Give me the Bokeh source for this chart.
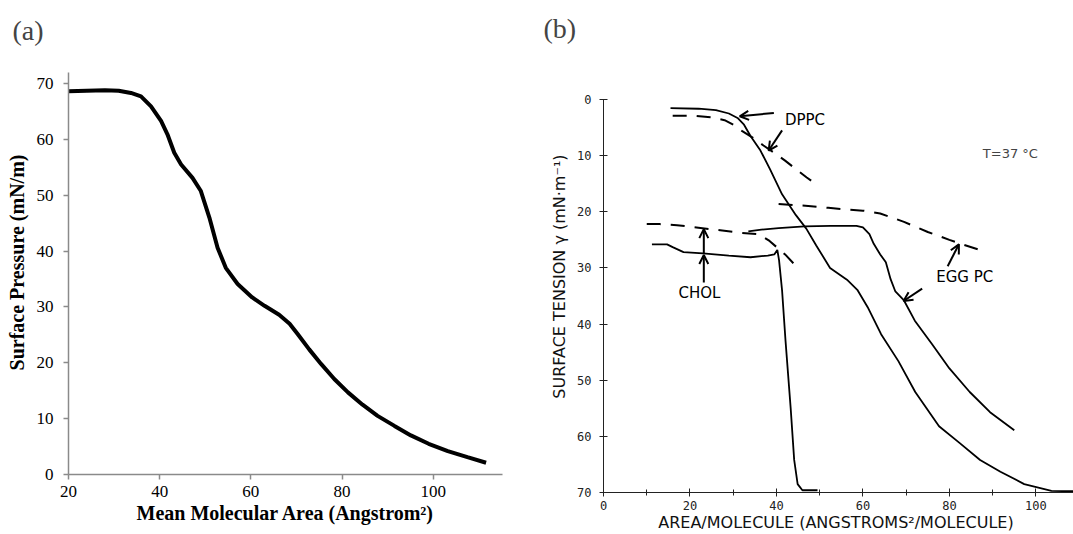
from bokeh.plotting import figure
from bokeh.layouts import row, column
from bokeh.models import Range1d, FixedTicker, Label, Arrow, OpenHead
from bokeh.embed import file_html
from bokeh.resources import INLINE

# ---------------- Panel (a) data ----------------
a_area = [20, 24, 28, 31, 33.7, 35.9, 38.1, 40.3, 41.7, 43.2, 44.7, 47.2, 49.0, 50.9, 52.7, 54.5, 57.1,
          60.3, 63, 66.2, 68.5, 70.3, 72.8, 75.4, 78.3, 81.3, 84.5, 87.8, 91.5, 95.1, 99, 103.2, 107.5, 111.6]
a_pressure = [68.6, 68.7, 68.8, 68.7, 68.3, 67.7, 65.9, 63.3, 60.9, 57.6, 55.5, 53.1, 50.8, 46.0, 40.6,
              37.0, 34.1, 31.7, 30.2, 28.6, 27.0, 25.1, 22.4, 19.8, 17.1, 14.7, 12.5, 10.5, 8.7, 7.0,
              5.5, 4.2, 3.1, 2.1]
a_xticks = [20, 40, 60, 80, 100]
a_yticks = [0, 10, 20, 30, 40, 50, 60, 70]

# ---------------- Panel (b) data ----------------
dppc_solid_x = [15.5, 22, 26, 29, 31, 32.5, 34, 36.3, 38.5, 41.3, 44.5, 46.9, 49.2, 52.4, 56.3, 58.7,
                61.1, 64.2, 68.2, 72.1, 77.6, 82.4, 87.1, 91.8, 97.3, 103.6, 110]
dppc_solid_y = [1.55, 1.65, 1.9, 2.5, 3.3, 4.5, 6.5, 9.1, 12.4, 16.9, 20.6, 23.0, 26.0, 30.0, 32.1, 33.9,
                37.0, 41.8, 46.6, 52.1, 58.2, 61.2, 64.2, 66.3, 68.5, 69.7, 69.8]
dppc_dash_x = [16, 21, 25, 28, 30, 32, 34.5, 37, 39.5, 42, 44.5, 47, 49.2]
dppc_dash_y = [2.9, 2.9, 3.2, 3.7, 4.5, 5.6, 6.8, 8.2, 9.5, 10.9, 12.4, 13.9, 15.1]

egg_solid_x = [33.5, 36.5, 40.5, 46.5, 52.5, 58.5, 60, 61.5, 62.5, 64, 65.3, 66.4, 67.5, 69.5, 72, 76,
               80, 84.7, 89.4, 95]
egg_solid_y = [23.5, 23.2, 22.9, 22.6, 22.5, 22.5, 22.8, 24.0, 25.7, 27.6, 29.0, 32.0, 34.2, 35.8, 39.4,
               43.6, 47.9, 52.1, 55.7, 58.9]
egg_dash_x = [40.5, 44, 48, 52, 56, 60, 64, 69.5, 75, 80, 83, 87]
egg_dash_y = [18.6, 18.8, 19.0, 19.3, 19.6, 19.8, 20.3, 21.8, 23.6, 25.0, 25.8, 26.8]

chol_solid_x = [11.2, 14.7, 16, 18.5, 23, 29, 34, 38, 39.5, 40.2, 40.6, 41.3, 42.1, 43.3, 44.1, 44.9,
                46, 49.5]
chol_solid_y = [25.8, 25.8, 26.3, 27.2, 27.4, 27.8, 28.1, 27.8, 27.6, 26.8, 28.6, 34, 43, 55.1, 64.2,
                68.5, 69.6, 69.6]
chol_dash_x = [10, 13, 17, 21.5, 27, 31, 36, 38.4, 40.5, 42, 44.8]
chol_dash_y = [22.2, 22.2, 22.4, 22.8, 23.3, 23.7, 24.0, 25.2, 26.6, 27.6, 29.9]

b_xticks = [0, 20, 40, 60, 80, 100]
b_xminor = [10, 30, 50, 70, 90]
b_yticks = [0, 10, 20, 30, 40, 50, 60, 70]

# annotations (b): (x_start, y_start, x_end, y_end)
b_arrows = [
    (39.4, 2.4, 31.5, 3.0),
    (41.3, 5.5, 38.2, 9.1),
    (23.2, 32.6, 23.2, 27.7),
    (23.2, 27.5, 23.2, 23.1),
    (79.6, 29.7, 82.2, 25.8),
    (73.7, 33.7, 69.4, 35.9),
]
b_texts = [
    ("DPPC", 46.6, 3.7, "15px", "black"),
    ("T=37 °C", 94.1, 9.6, "13px", "#444444"),
    ("EGG  PC", 84.1, 31.7, "15px", "black"),
    ("CHOL", 22.2, 34.5, "15px", "black"),
]

SERIF = "Liberation Serif"
PLOT = "DejaVu Sans"
MONO = "DejaVu Sans Mono"

# ---------------- Panel (a) ----------------
pa = figure(width=540, height=534, x_range=Range1d(20, 115.2), y_range=Range1d(0, 75.9),
            output_backend="svg", toolbar_location=None, title="(a)",
            min_border_left=68, min_border_right=38, min_border_top=50, min_border_bottom=60)
pa.title.text_font = SERIF
pa.title.text_font_size = "28px"
pa.title.text_font_style = "normal"
pa.title.align = "left"
pa.title.offset = -56
pa.title.standoff = 9
pa.line(a_area, a_pressure, line_width=4, line_color="black")
pa.grid.visible = False
pa.outline_line_color = None
pa.xaxis.ticker = FixedTicker(ticks=a_xticks)
pa.yaxis.ticker = FixedTicker(ticks=a_yticks)
pa.yaxis.bounds = (0, 72)
for ax in (pa.xaxis[0], pa.yaxis[0]):
    ax.axis_line_color = "#8a8a8a"
    ax.axis_line_width = 1.5
    ax.major_tick_line_color = "#8a8a8a"
    ax.major_tick_line_width = 1.5
    ax.major_tick_out = 5
    ax.major_tick_in = 0
    ax.minor_tick_line_color = None
    ax.major_label_text_font = SERIF
    ax.major_label_text_font_size = "17px"
    ax.major_label_text_color = "black"
    ax.axis_label_text_font = SERIF
    ax.axis_label_text_font_style = "bold"
    ax.axis_label_text_font_size = "20px"
    ax.axis_label_text_color = "black"
pa.xaxis.major_label_standoff = 6
pa.xaxis.axis_label_standoff = 2
pa.yaxis.major_label_standoff = 10
pa.yaxis.axis_label_standoff = 6
pa.xaxis.axis_label = "Mean Molecular Area (Angstrom²)"
pa.yaxis.axis_label = "Surface Pressure (mN/m)"

# ---------------- Panel (b) ----------------
pb = figure(width=533, height=534, x_range=Range1d(0, 108.7), y_range=Range1d(70, -8.72),
            output_backend="svg", toolbar_location=None, title="(b)",
            min_border_left=63, min_border_right=0, min_border_top=50, min_border_bottom=42)
pb.title.text_font = SERIF
pb.title.text_font_size = "28px"
pb.title.text_font_style = "normal"
pb.title.align = "left"
pb.title.offset = -60
pb.title.standoff = 13
pb.grid.visible = False
pb.outline_line_color = None
pb.line(dppc_solid_x, dppc_solid_y, line_width=1.8, line_color="black")
pb.line(egg_solid_x, egg_solid_y, line_width=1.8, line_color="black")
pb.line(chol_solid_x, chol_solid_y, line_width=1.8, line_color="black")
pb.line(dppc_dash_x, dppc_dash_y, line_width=2, line_color="black", line_dash="14 10")
pb.line(egg_dash_x, egg_dash_y, line_width=2, line_color="black", line_dash="14 10")
pb.line(chol_dash_x, chol_dash_y, line_width=2, line_color="black", line_dash="14 10")

pb.xaxis.ticker = FixedTicker(ticks=b_xticks, minor_ticks=b_xminor)
pb.yaxis.ticker = FixedTicker(ticks=b_yticks)
pb.yaxis.bounds = (0, 70)
for ax in (pb.xaxis[0], pb.yaxis[0]):
    ax.axis_line_color = "#222222"
    ax.axis_line_width = 1
    ax.major_tick_line_color = "#222222"
    ax.major_tick_in = 4
    ax.major_tick_out = 4
    ax.minor_tick_line_color = "#222222"
    ax.minor_tick_in = 3
    ax.minor_tick_out = 3
    ax.major_label_text_font = MONO
    ax.major_label_text_font_size = "12px"
    ax.major_label_text_color = "#222222"
    ax.axis_label_text_font = PLOT
    ax.axis_label_text_font_size = "16px"
    ax.axis_label_text_font_style = "normal"
    ax.axis_label_text_color = "#111111"
pb.yaxis.minor_tick_line_color = None
pb.xaxis.major_label_standoff = 4
pb.yaxis.major_label_standoff = 8
pb.xaxis.axis_label_standoff = 0
pb.yaxis.axis_label_standoff = 5
pb.xaxis.axis_label = "AREA/MOLECULE  (ANGSTROMS²/MOLECULE)"
pb.yaxis.axis_label = "SURFACE TENSION  γ  (mN·m⁻¹)"

for (x0, y0, x1, y1) in b_arrows:
    pb.add_layout(Arrow(x_start=x0, y_start=y0, x_end=x1, y_end=y1, line_width=2, line_color="black",
                        end=OpenHead(size=9, line_width=2, line_color="black")))
for (t, x, y, fs, col) in b_texts:
    pb.add_layout(Label(x=x, y=y, text=t, text_font=PLOT, text_font_size=fs, text_color=col,
                        text_align="center", text_baseline="middle"))

p = row(column(pa), column(pb))
open("out.html", "w").write(file_html(p, INLINE))
